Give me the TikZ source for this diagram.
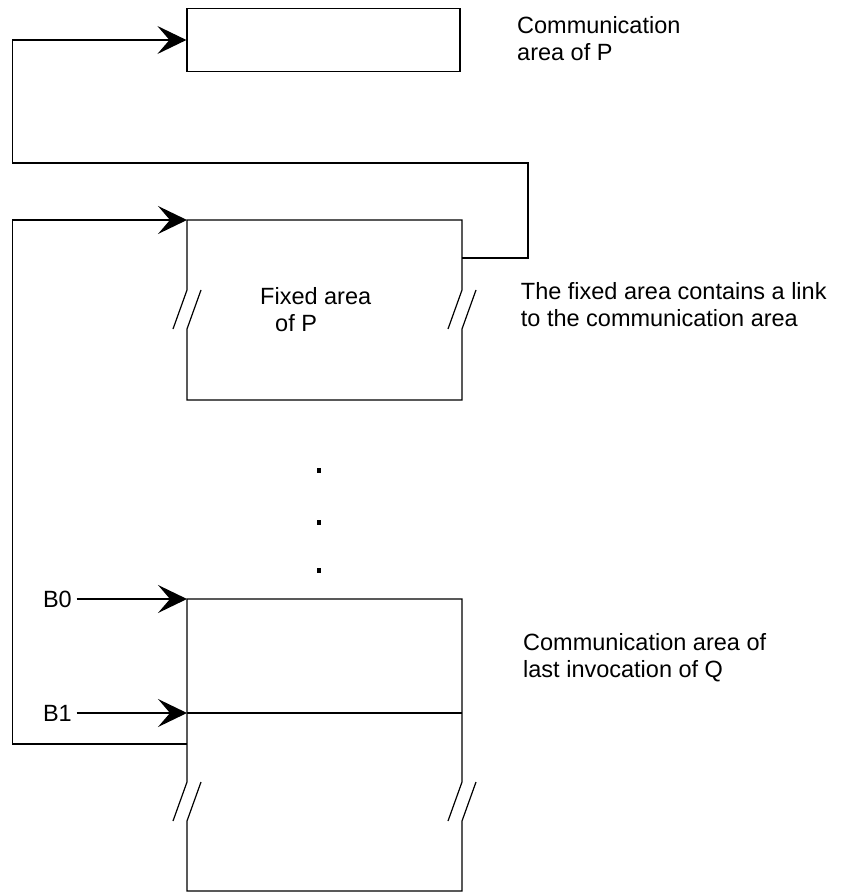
\documentclass[tikz,border=0pt]{standalone}
\usepackage{fontspec}
\setmainfont{Liberation Sans}
\usetikzlibrary{arrows.meta}
\begin{document}
\begin{tikzpicture}[x=1pt,y=-1pt,
  wire/.style={line width=1.2pt,line join=miter},
  ptr/.style={wire,-{Stealth[length=29pt,width=28pt,inset=12pt]}},
  % multi-line labels are placed by the baseline of their last line
  lbl/.style={font=\fontsize{23.5}{27}\selectfont,anchor=base west,inner sep=0pt,align=left},
  tag/.style={font=\fontsize{23.5}{27}\selectfont,anchor=west,inner sep=0pt,outer sep=0pt},
  area/.style={wire,draw,rectangle,inner sep=0pt},
  dotmark/.style={fill=black,draw=none}
]
\useasboundingbox (0,0) rectangle (840,893);

% communication area of P
\node[area,minimum width=273pt,minimum height=63pt] (commP) at (323.5,40) {};

% fixed area of P, with broken sides
\coordinate (faTL) at (187,220);
\coordinate (faLink) at (462,258);
\draw[wire] (173,329) -- (187,290) -- (faTL) -- (462,220) -- (462,290) -- (448,329);
\draw[wire] (201,290) -- (187,329) -- (187,400) -- (462,400) -- (462,329) -- (476,290);

% communication area of the last invocation of Q, with broken sides
\coordinate (qTL) at (187,599);
\coordinate (qMid) at (187,713);
\coordinate (qLink) at (187,744);
\draw[wire] (173,821) -- (187,782) -- (qTL) -- (462,599) -- (462,782) -- (448,821);
\draw[wire] (201,782) -- (187,821) -- (187,891) -- (462,891) -- (462,821) -- (476,782);
\draw[wire] (qMid) -- (462,713);

% links between the areas
\draw[ptr] (faLink) -| (528,163) -| (12.7,40) -- (commP.west);
\draw[ptr] (qLink) -| (12.7,220) -- (faTL);

% base registers
\node[tag] (B0) at (43,599) {B0};
\node[tag] (B1) at (43,713) {B1};
\draw[ptr] ([xshift=5pt]B0.east) -- (qTL);
\draw[ptr] ([xshift=5pt]B1.east) -- (qMid);

% ellipsis between the areas
\fill[dotmark] (317,468) rectangle (321,473);
\fill[dotmark] (317,519.5) rectangle (321,524.5);
\fill[dotmark] (317,567.5) rectangle (321,572.5);

% labels
\node[lbl] (fixedLbl) at (260,331) {Fixed area\\\hspace*{15pt}of P};
\node[lbl] (commPLbl) at (517,61) {Communication\\area of P};
\node[lbl] (linkLbl) at (520.7,326) {The fixed area contains a link\\to the communication area};
\node[lbl] (lastQLbl) at (523,677) {Communication area of\\last invocation of Q};
\end{tikzpicture}
\end{document}
